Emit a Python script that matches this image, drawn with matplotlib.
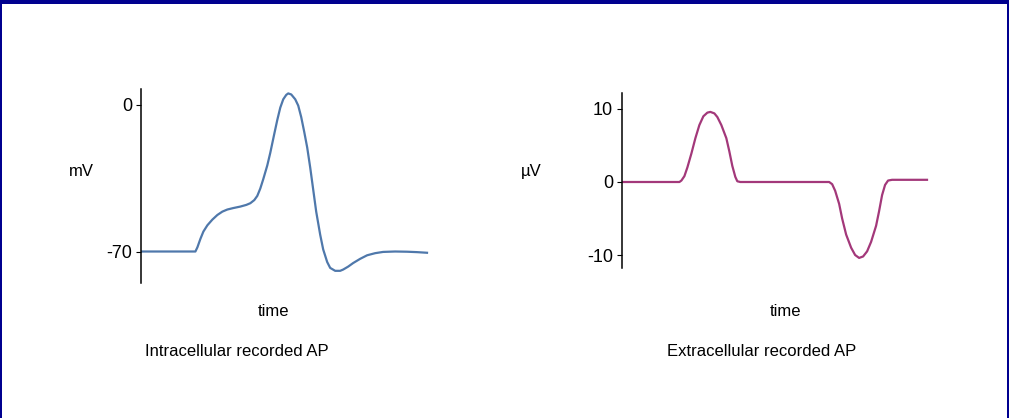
import matplotlib
matplotlib.use('Agg')
import matplotlib.pyplot as plt
from matplotlib.patches import Rectangle

plt.rcParams['font.family'] = ['Liberation Sans Narrow', 'Liberation Sans', 'DejaVu Sans']
plt.rcParams['axes.unicode_minus'] = False

W, H = 1009, 418

# intracellular action potential (mV)
t_intra = [0, 5.5, 5.7, 6.0, 6.3, 6.7, 7.2, 7.7, 8.2, 8.7, 9.3, 10.0, 10.6, 11.0, 11.4, 11.7,
           12.0, 12.3, 12.7, 13.0, 13.4, 13.7, 14.0, 14.3, 14.6, 14.8, 15.1, 15.5, 15.8, 16.1,
           16.4, 16.7, 17.0, 17.3, 17.6, 18.0, 18.3, 18.7, 19.0, 19.5, 20.0, 20.3, 20.8, 21.3,
           22.0, 22.7, 23.5, 24.3, 25.5, 26.7, 27.7, 28.7]
v_intra = [-70, -70, -68, -64, -60.5, -57.5, -54.8, -52.6, -51, -50, -49.3, -48.6, -47.8, -47,
           -45.5, -43.5, -40, -35.5, -29, -23, -14, -7.4, -1.5, 2.5, 4.6, 5.3, 4.8, 2.5, -0.5,
           -6, -13, -20.5, -30, -40.5, -51, -62, -69, -75, -77.8, -79.2, -79.2, -78.6, -77.2,
           -75.5, -73.5, -71.8, -70.8, -70.2, -70, -70.1, -70.3, -70.6]

# extracellular recording (uV)
t_extra = [0, 5.8, 6.0, 6.3, 6.6, 7.0, 7.4, 7.8, 8.2, 8.6, 8.9, 9.3, 9.6, 10.0, 10.5, 10.8,
           11.1, 11.4, 11.6, 11.9, 20.8, 21.1, 21.4, 21.8, 22.1, 22.5, 23.0, 23.4, 23.8, 24.2,
           24.6, 25.0, 25.5, 25.8, 26.1, 26.4, 26.7, 27.1, 30.6]
v_extra = [0, 0, 0.2, 0.8, 2.0, 3.9, 6.0, 7.8, 9.0, 9.5, 9.6, 9.4, 8.9, 7.8, 6.0, 4.2,
           2.2, 0.7, 0.1, 0, 0, -0.3, -1.2, -3.0, -5.0, -7.2, -9.0, -10.0, -10.4, -10.2,
           -9.5, -8.2, -6.0, -4.0, -1.8, -0.4, 0.2, 0.3, 0.3]

fig = plt.figure(figsize=(W / 100, H / 100), dpi=100)
fig.patch.set_facecolor('white')


def px_axes(x0, x1, ytop, ybot):
    return fig.add_axes([x0 / W, 1 - ybot / H, (x1 - x0) / W, (ybot - ytop) / H])


def style(ax):
    for s in ['top', 'right', 'bottom']:
        ax.spines[s].set_visible(False)
    ax.spines['left'].set_linewidth(1.1)
    ax.set_xticks([])
    ax.tick_params(axis='y', direction='out', length=3.6, width=0.8, pad=2.5,
                   labelsize=13, colors='black')
    ax.patch.set_alpha(0)


ax1 = px_axes(140.5, 430, 89, 283)
ax1.plot(t_intra, v_intra, color='#4f78ab', lw=1.6, solid_joinstyle='round')
ax1.set_xlim(0, 29)
ax1.set_ylim(-85.0, 7.4)
ax1.set_yticks([0, -70])
style(ax1)

ax2 = px_axes(621.5, 931, 93, 268)
ax2.plot(t_extra, v_extra, color='#a3387a', lw=1.6, solid_joinstyle='round')
ax2.set_xlim(0, 31)
ax2.set_ylim(-11.78, 12.19)
ax2.set_yticks([10, 0, -10])
style(ax2)


def label(x, y, s):
    fig.text(x / W, 1 - y / H, s, ha='center', va='center', fontsize=12, color='black')


label(81, 171, 'mV')
label(273, 312, 'time')
label(237, 352, 'Intracellular recorded AP')
label(531, 171, '\u00b5V')
label(786, 312, 'time')
label(762, 352, 'Extracellular recorded AP')

# dark blue frame (top, left and right edges)
navy = '#00008f'
fig.add_artist(Rectangle((0, 1 - 4 / H), 1, 4 / H, transform=fig.transFigure, color=navy, lw=0))
fig.add_artist(Rectangle((0, 0), 1.5 / W, 1, transform=fig.transFigure, color=navy, lw=0))
fig.add_artist(Rectangle((1 - 2 / W, 0), 2 / W, 1, transform=fig.transFigure, color=navy, lw=0))

fig.savefig('out.png', dpi=100)
